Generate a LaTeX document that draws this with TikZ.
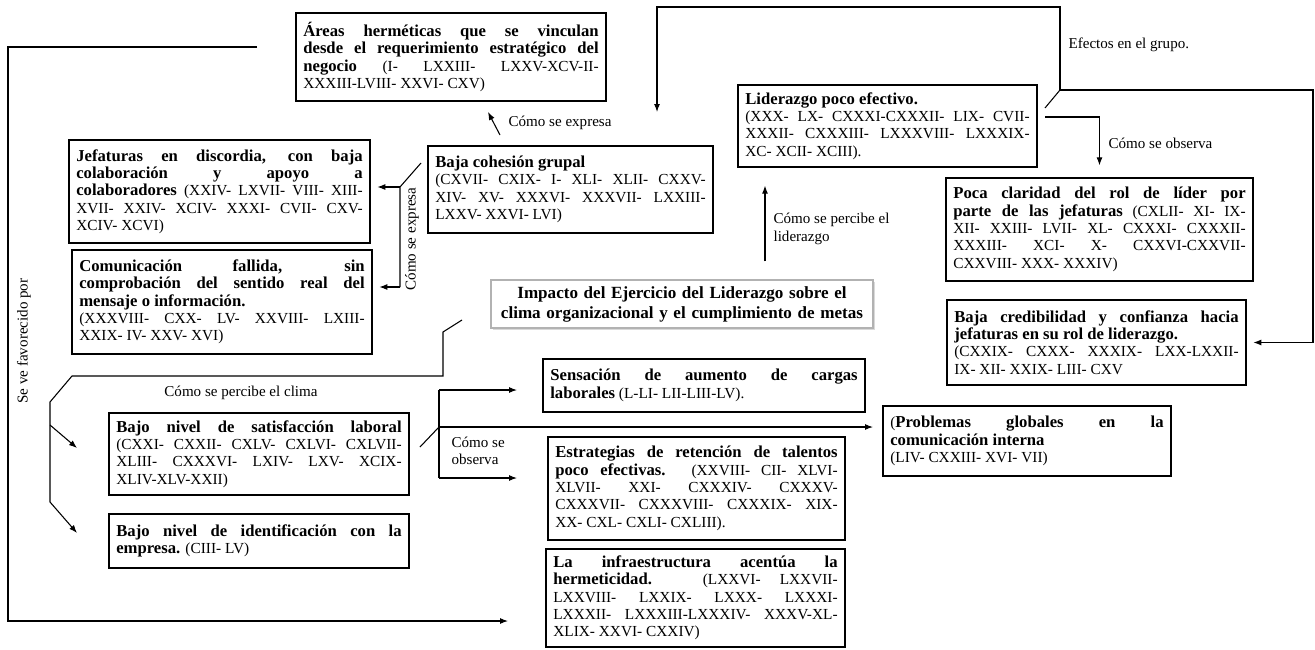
\documentclass[tikz,border=0pt]{standalone}
\usepackage{fontspec}
\setmainfont{Liberation Serif}
\usetikzlibrary{arrows.meta,shadows}
\newcommand{\negr}[1]{{\fontsize{12.5}{13}\selectfont\bfseries #1}}
\hyphenpenalty=10000
\tolerance=10000
\hbadness=10000
\begin{document}
\begin{tikzpicture}[x=0.75pt, y=-0.75pt,
	box/.style = {draw, line width=1pt, align=justify, inner xsep=5.5pt, inner ysep=3pt, font=\fontsize{11.5}{13}\selectfont},
	lbl/.style = {inner sep=1pt, align=left, font=\fontsize{11.3}{13}\selectfont},
	con/.style = {line width=0.8pt},
	arr/.style = {-{Latex[length=6pt, width=4.5pt]}}]
	\useasboundingbox (0,0) rectangle (1315,650);
	\node[box, text width=221.5pt, minimum height=66pt] (areas) at (451,57) {\negr{Áreas herméticas que se vinculan \linebreak desde el requerimiento estratégico del \linebreak negocio} (I- LXXIII- LXXV-XCV-II-\linebreak XXXIII-LVIII- XXVI- CXV)};
	\node[box, text width=214.75pt, minimum height=77.25pt] (jef) at (219.5,191.5) {\negr{Jefaturas en discordia, con baja \linebreak colaboración y apoyo a \linebreak colaboradores} (XXIV- LXVII- VIII- XIII-\linebreak XVII- XXIV- XCIV- XXXI- CVII- CXV-\linebreak XCIV- XCVI)};
	\node[box, text width=214pt, minimum height=78pt] (com) at (222,302) {\negr{Comunicación fallida, sin \linebreak comprobación del sentido real del \linebreak mensaje o información.}\\ (XXXVIII- CXX- LV- XXVIII- LXIII-\linebreak XXIX- IV- XXV- XVI)};
	\node[box, text width=202.75pt, minimum height=65.25pt] (coh) at (570.5,189.5) {\negr{Baja cohesión grupal}\\ (CXVII- CXIX- I- XLI- XLII- CXXV-\linebreak XIV- XV- XXXVI- XXXVII- LXXIII-\linebreak LXXV- XXVI- LVI)};
	\node[box, text width=213.25pt, minimum height=61.5pt] (lid) at (887.5,126) {\negr{Liderazgo poco efectivo.}\\ (XXX- LX- CXXXI-CXXXII- LIX- CVII-\linebreak XXXII- CXXXIII- LXXXVIII- LXXXIX-\linebreak XC- XCII- XCIII).};
	\node[box, text width=219.25pt, minimum height=77.25pt] (poca) at (1099.5,229.5) {\negr{Poca claridad del rol de líder por \linebreak parte de las jefaturas} (CXLII- XI- IX-\linebreak XII- XXIII- LVII- XL- CXXXI- CXXXII-\linebreak XXXIII- XCI- X- CXXVI-CXXVII-\linebreak CXXVIII- XXX- XXXIV)};
	\node[box, text width=213.25pt, minimum height=63.75pt] (cred) at (1096.5,342.5) {\negr{Baja credibilidad y confianza hacia \linebreak jefaturas en su rol de liderazgo.}\\ (CXXIX- CXXX- XXXIX- LXX-LXXII-\linebreak IX- XII- XXIX- LIII- CXV};
	\node[draw=gray!60, line width=1pt, fill=white, drop shadow={shadow xshift=1.5pt, shadow yshift=-1.5pt, opacity=0.3}, text width=280pt, inner xsep=3.25pt, align=center, minimum height=36pt, font=\fontsize{12.8}{15}\selectfont\bfseries] (mid) at (682,304) {Impacto del Ejercicio del Liderazgo sobre el\\ clima organizacional y el cumplimiento de metas};
	\node[box, text width=230.5pt, minimum height=39.75pt] (sens) at (704,385.5) {\negr{Sensación de aumento de cargas \linebreak laborales} (L-LI- LII-LIII-LV).};
	\node[box, text width=214pt, minimum height=61.5pt] (sat) at (259,454) {\negr{Bajo nivel de satisfacción laboral} \linebreak (CXXI- CXXII- CXLV- CXLVI- CXLVII-\linebreak XLIII- CXXXVI- LXIV- LXV- XCIX-\linebreak XLIV-XLV-XXII)};
	\node[box, text width=214pt, minimum height=40.5pt] (ident) at (259,541) {\negr{Bajo nivel de identificación con la \linebreak empresa.} (CIII- LV)};
	\node[box, text width=211.75pt, minimum height=77.25pt] (estr) at (696.5,488.5) {\negr{Estrategias de retención de talentos \linebreak poco efectivas.} (XXVIII- CII- XLVI-\linebreak XLVII- XXI- CXXXIV- CXXXV-\linebreak CXXXVII- CXXXVIII- CXXXIX- XIX-\linebreak XX- CXL- CXLI- CXLIII).};
	\node[box, text width=213.25pt, minimum height=73.5pt] (infra) at (695.5,598) {\negr{La infraestructura acentúa la \linebreak hermeticidad.} (LXXVI- LXXVII-\linebreak LXXVIII- LXXIX- LXXX- LXXXI-\linebreak LXXXII- LXXXIII-LXXXIV- XXXV-XL-\linebreak XLIX- XXVI- CXXIV)};
	\node[box, text width=205pt, minimum height=52.5pt] (prob) at (1027,441) {(\negr{Problemas globales en la \linebreak comunicación interna}\\ (LIV- CXXIII- XVI- VII)};
	\node[lbl, anchor=west] (l1) at (507,123) {Cómo se expresa};
	\node[lbl, rotate=90] (l2) at (412,239) {Cómo se expresa};
	\node[lbl, anchor=west] (l3) at (1067,45) {Efectos en el grupo.};
	\node[lbl, anchor=west] (l4) at (1107,143) {Cómo se observa};
	\node[lbl, anchor=west] (l5) at (772,229) {Cómo se percibe el\\liderazgo};
	\node[lbl] (l6) at (241,393) {Cómo se percibe el clima};
	\node[lbl, anchor=west] (l7) at (450,451) {Cómo se\\observa};
	\node[lbl, rotate=90] (l8) at (24,341) {Se ve favorecido por};
	\coordinate (e1) at (500,135);
	\coordinate (e2) at (488,112);
	\draw[con, arr] (e1) -- (e2);
	\coordinate (c1) at (421,163);
	\coordinate (c2) at (400,187);
	\coordinate (c3) at (400,287);
	\draw[con] (c1) -- (c2) -- (c3);
	\draw[con, arr, shorten >=5pt] (c2) -- (c2 -| jef.east);
	\draw[con, arr, shorten >=5pt] (c3) -- (c3 -| com.east);
	\coordinate (t1) at (1045,108);
	\coordinate (t2) at (1060,90);
	\coordinate (t3) at (657,112);
	\coordinate (t4) at (1313,90);
	\draw[con] (t1) -- (t2);
	\draw[con, arr] (t2) -- (t2 |- 0,7) -| (t3);
	\draw[con, arr, shorten >=5pt] (t2) -- (t4) |- (cred.east);
	\coordinate (o1) at (1045,117);
	\draw[con, arr, shorten >=9pt] (o1) -| (poca.north);
	\coordinate (p1) at (765,0);
	\draw[con, arr, shorten <=13.5pt, shorten >=13.5pt] (mid.north -| p1) -- (lid.south -| p1);
	\coordinate (m1) at (462,320);
	\coordinate (m2) at (443,332);
	\coordinate (m3) at (72,376);
	\coordinate (m4) at (50,402);
	\coordinate (m5) at (50,425);
	\coordinate (m6) at (50,502);
	\coordinate (a1) at (77,448);
	\coordinate (a2) at (77,533);
	\draw[con] (m1) -- (m2) |- (m3) -- (m4) -- (m6);
	\draw[con, arr] (m5) -- (a1);
	\draw[con, arr] (m6) -- (a2);
	\coordinate (s1) at (420,447);
	\coordinate (s2) at (439,427);
	\coordinate (s3) at (439,390);
	\coordinate (s4) at (439,478);
	\coordinate (s5) at (517,390);
	\coordinate (s6) at (517,478);
	\draw[con] (s1) -- (s2);
	\draw[con] (s3) -- (s4);
	\draw[con, arr] (s3) -- (s5);
	\draw[con, arr] (s4) -- (s6);
	\draw[con, arr, shorten >=7pt] (s2) -- (s2 -| prob.west);
	\coordinate (b1) at (257,47);
	\coordinate (b2) at (8,47);
	\coordinate (b3) at (508,621);
	\draw[con, arr] (b1) -- (b2) |- (b3);
\end{tikzpicture}
\end{document}
